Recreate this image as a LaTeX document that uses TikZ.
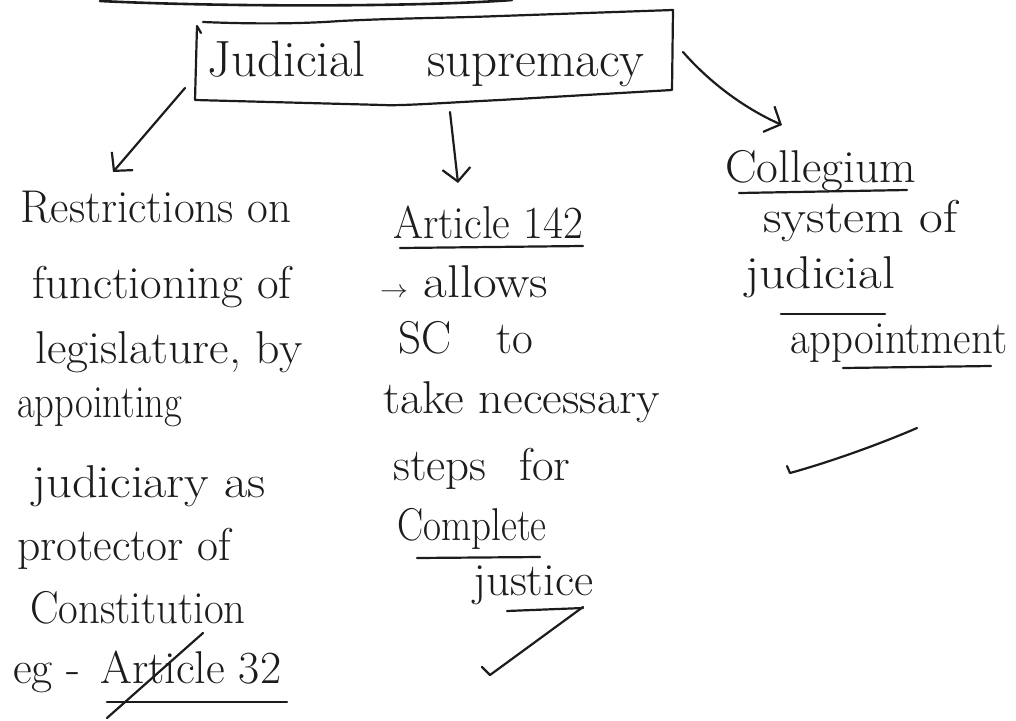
\documentclass[tikz,border=0pt]{standalone}
\usetikzlibrary{arrows.meta}
\definecolor{ink}{HTML}{1C1C1C}
\begin{document}
\begin{tikzpicture}[x=1pt,y=-1pt,
  inkline/.style={draw=ink, line width=2.2pt, line cap=round, line join=round},
  branch/.style={inkline, -{Straight Barb[length=13pt,width=28pt]}},
  handtext/.style={anchor=base west, inner sep=0pt, text=ink, font=\fontsize{46}{46}\selectfont, xscale=#1},
  handtext/.default=1,
  headtext/.style={anchor=base west, inner sep=0pt, text=ink, font=\fontsize{51}{51}\selectfont}]
\useasboundingbox (0,0) rectangle (1016,720);

% stroke left over from the heading above
\draw[inkline, line width=2.6pt] (100,1) .. controls (220,7) and (420,7) .. (512,0);

% central topic and its hand-drawn frame
\node[headtext] (root) at (207,76) {Judicial \hspace{46pt}supremacy};
\draw[inkline] (203,22) .. controls (250,24) and (300,24) .. (340,21)
  .. controls (400,18) and (450,18) .. (500,16) -- (673,10) -- (672,90)
  -- (500,100) .. controls (440,103) and (400,106) .. (383,105)
  -- (195,100) -- (197,26) -- (201,33);

% left branch
\node[handtext=0.98] (L1) at (20,222) {Restrictions on};
\node[handtext=1.02] (L2) at (32,298) {functioning of};
\node[handtext=1.04] (L3) at (35,363) {legislature, by};
\node[handtext=0.84] (L4) at (17,417) {appointing};
\node[handtext=1.1] (L5) at (32,497) {judiciary as};
\node[handtext=0.99] (L6) at (17,560) {protector of};
\node[handtext=0.93] (L7) at (30,623) {Constitution};
\node[handtext] (L8) at (13,683) {eg -};
\node[handtext] (L8b) at (100,683) {Article 32};
\draw[inkline] (107,702) -- (287,702);
\draw[inkline] (107,718) -- (203,633);

% middle branch
\node[handtext=0.94] (M1) at (393,238) {Article 142};
\node[handtext=1.12] (M2) at (380,297) {$\rightarrow$ allows};
\node[handtext=0.98] (M3) at (398,353) {SC\hspace{1em}to};
\node[handtext=1.05] (M4) at (383,413) {take necessary};
\node[handtext=1.02] (M5) at (393,480) {steps \hspace{0.4em}for};
\node[handtext=0.85] (M6) at (397,540) {Complete};
\node[handtext=1.02] (M7) at (473,595) {justice};
\draw[inkline] (400,248) -- (583,246);
\draw[inkline] (417,558) -- (540,557);
\draw[inkline] (507,611) -- (583,608);
\draw[inkline] (482,667) -- (490,675) -- (583,607);

% right branch
\node[handtext=1.03] (R1) at (725,182) {Collegium};
\node[handtext=1.12] (R2) at (763,232) {system of};
\node[handtext=1.12] (R3) at (745,288) {judicial};
\node[handtext=0.93] (R4) at (790,353) {appointment};
\draw[inkline] (739,193) -- (907,190);
\draw[inkline] (781,314) -- (885,314);
\draw[inkline] (843,368) -- (991,366);
\draw[inkline] (787,466) -- (790,473) .. controls (830,462) and (880,444) .. (917,428);

% connectors from the topic to each branch
\draw[branch] ([shift={(-22pt,-12pt)}]root.base west) -- ([shift={(93pt,50pt)}]L1.base west);
\draw[branch] ([shift={(243pt,-36pt)}]root.base west) -- ([shift={(65pt,55pt)}]M1.base west);
\draw[branch] ([shift={(476pt,24pt)}]root.base west)
  .. controls +(28,32) and +(-36,-16) .. ([shift={(57pt,57pt)}]R1.base west);
\end{tikzpicture}
\end{document}
